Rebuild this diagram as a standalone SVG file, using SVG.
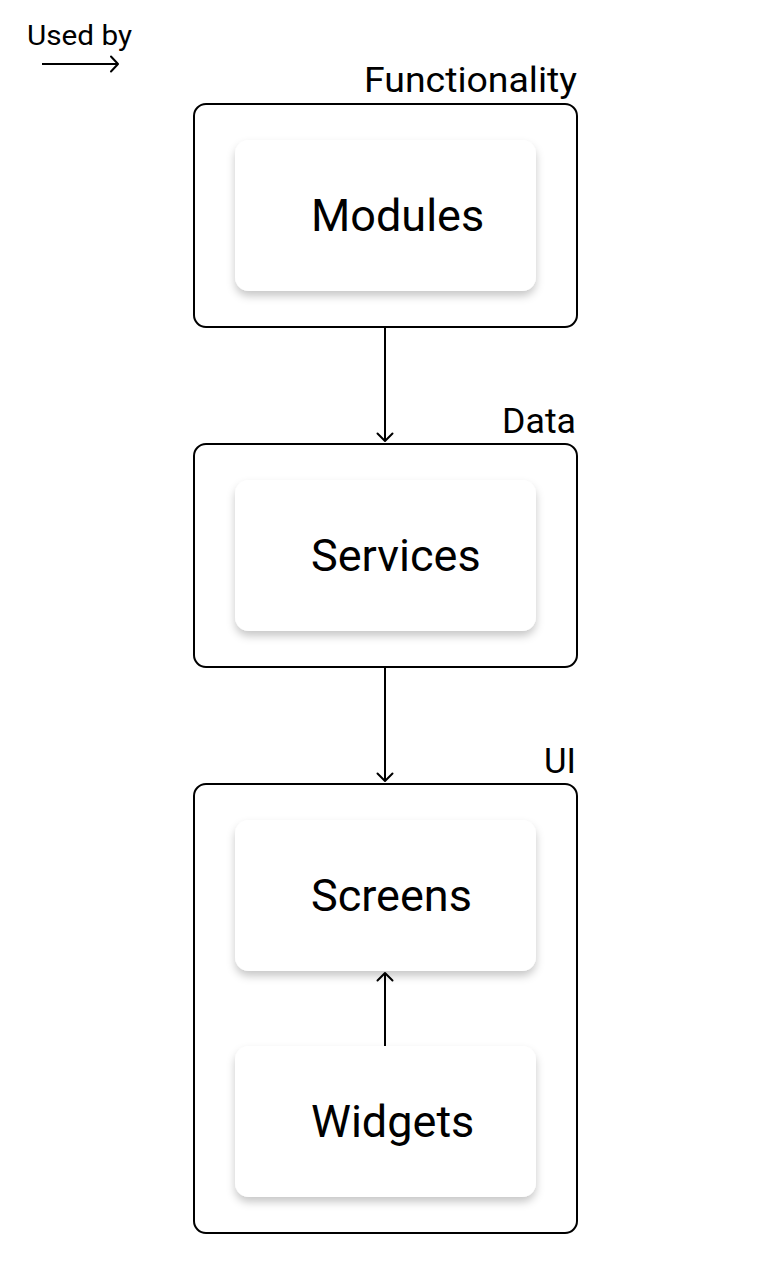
<svg xmlns="http://www.w3.org/2000/svg" width="771" height="1280" viewBox="0 0 771 1280">
<style>
.frame{fill:#fff;stroke:#000;stroke-width:2}
.card{fill:#fff;filter:url(#sh)}
.lbl{font-family:Roboto,"Liberation Sans",sans-serif;font-size:35px;fill:#000;text-anchor:end}
.ct{font-family:Roboto,"Liberation Sans",sans-serif;font-size:45px;fill:#000}
.conn{stroke:#000;stroke-width:2;fill:none}
.ah{stroke:#000;stroke-width:2;fill:none;stroke-linecap:round;stroke-linejoin:round}
</style>
<defs>
<filter id="sh" x="-20%" y="-20%" width="140%" height="150%">
<feDropShadow dx="0" dy="5" stdDeviation="4" flood-color="#000" flood-opacity="0.22"/>
</filter>
</defs>
<rect width="771" height="1280" fill="#fff"/>
<g id="legend">
<text x="27" y="45" textLength="105" lengthAdjust="spacingAndGlyphs" style="font-family:Roboto,'Liberation Sans',sans-serif;font-size:28px;fill:#000">Used by</text>
<line x1="42" y1="64" x2="117" y2="64" class="conn"/>
<path d="M111 56.5 L118 64 L111 71.5" class="ah"/>
</g>
<g id="functionality">
<rect x="194" y="104" width="383" height="223" rx="12" class="frame"/>
<text x="577" y="92" class="lbl" textLength="213" lengthAdjust="spacingAndGlyphs">Functionality</text>
</g>
<g id="modules">
<rect x="235" y="140" width="301" height="151" rx="14" class="card"/>
<text x="311" y="231" class="ct">Modules</text>
</g>
<g id="data">
<rect x="194" y="444" width="383" height="223" rx="12" class="frame"/>
<text x="576" y="433" class="lbl" textLength="74" lengthAdjust="spacingAndGlyphs">Data</text>
</g>
<g id="services">
<rect x="235" y="480" width="301" height="151" rx="14" class="card"/>
<text x="311" y="571" class="ct">Services</text>
</g>
<g id="ui">
<rect x="194" y="784" width="383" height="449" rx="12" class="frame"/>
<text x="576" y="773" class="lbl" textLength="32" lengthAdjust="spacingAndGlyphs">UI</text>
</g>
<g id="screens">
<rect x="235" y="820" width="301" height="151" rx="14" class="card"/>
<text x="311" y="911" class="ct">Screens</text>
</g>
<g id="widgets">
<rect x="235" y="1046" width="301" height="151" rx="14" class="card"/>
<text x="311" y="1137" class="ct">Widgets</text>
</g>
<g id="connectors">
<line x1="385" y1="327" x2="385" y2="441" class="conn"/>
<path d="M377.5 433.5 L385 441 L392.5 433.5" class="ah"/>
<line x1="385" y1="667" x2="385" y2="781" class="conn"/>
<path d="M377.5 773.5 L385 781 L392.5 773.5" class="ah"/>
<line x1="385" y1="1046" x2="385" y2="973" class="conn"/>
<path d="M377.5 980.5 L385 973 L392.5 980.5" class="ah"/>
</g>
</svg>
